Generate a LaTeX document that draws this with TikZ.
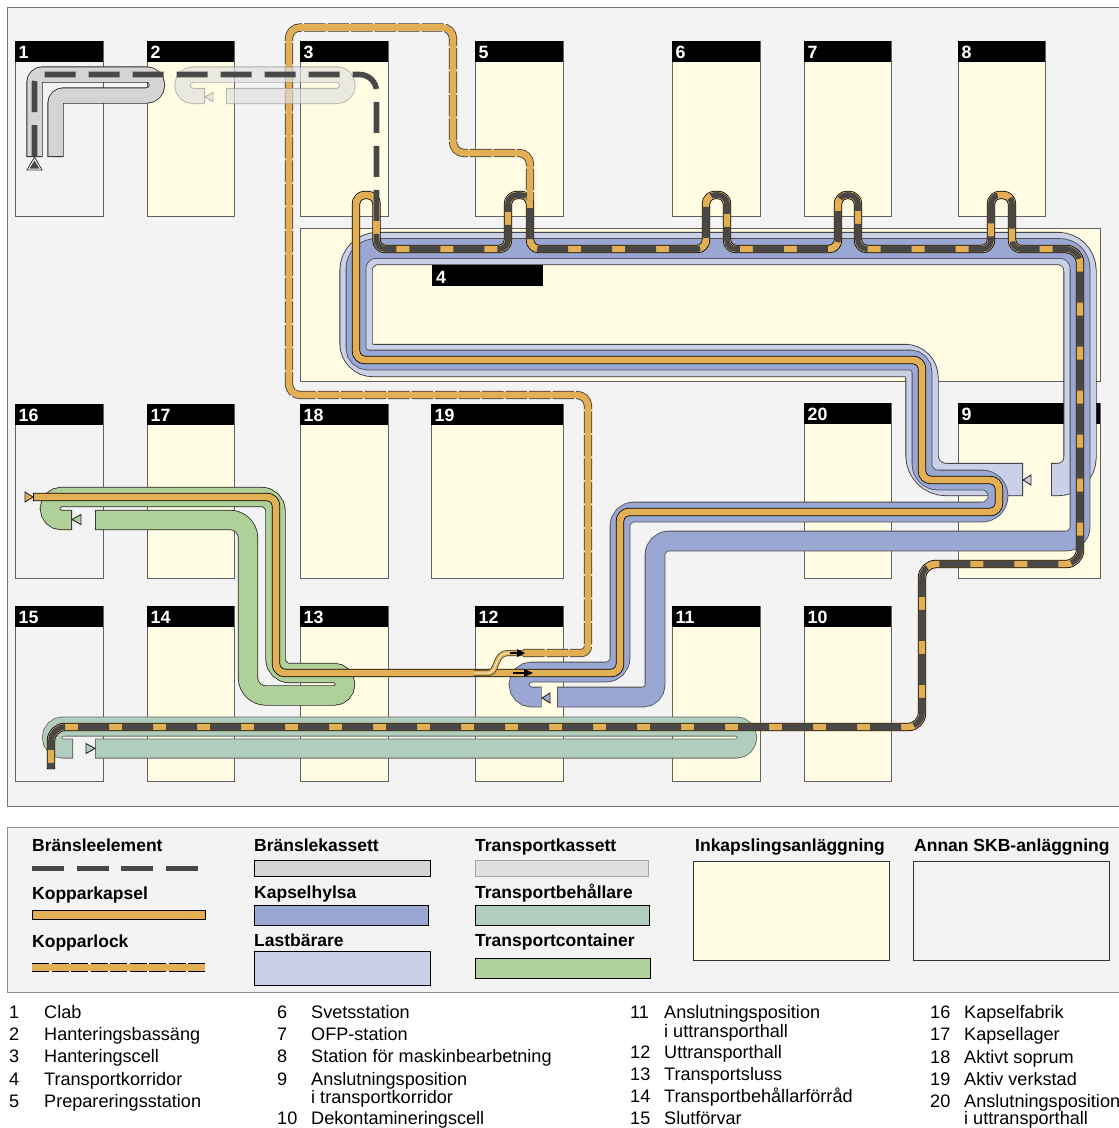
\documentclass[tikz,border=0pt]{standalone}
\usepackage{fontspec}
\setmainfont{Liberation Sans}
\definecolor{copper}{HTML}{E2AF55}
\definecolor{fueldark}{HTML}{484848}
\definecolor{capsblue}{HTML}{9AA7D3}
\definecolor{carrier}{HTML}{C9D0E8}
\definecolor{cream}{HTML}{FFFCE3}
\definecolor{bggray}{HTML}{F3F3F3}
\definecolor{contgreen}{HTML}{B0D09A}
\definecolor{teal}{HTML}{B0CDBD}
\definecolor{cassgray}{HTML}{D4D4D4}
\definecolor{transgray}{HTML}{E0E0E0}
\tikzset{
  x=1pt,y=-1pt,
  roomline/.style={draw=black!62,line width=1pt},
  hdrnum/.style={text=white,font=\fontsize{17.8}{19}\selectfont\bfseries,inner sep=0pt,anchor=base west},
  legtitle/.style={font=\fontsize{17.5}{19}\selectfont\bfseries,inner sep=0pt,anchor=base west},
  listitem/.style={font=\fontsize{18.1}{19}\selectfont,inner sep=0pt,anchor=base west},
  swatch/.style={draw=black,line width=1pt},
  fuel/.style={fueldark,line width=5.6pt,dash pattern=on 31pt off 13pt},
  tip/.style={line width=.9pt,draw=black!85},
}
% outlined band
\newcommand{\tube}[4]{%
  \draw[#3,line width=#2pt+1.6pt] #4;
  \draw[#1,line width=#2pt,shorten <=.8pt,shorten >=.8pt] #4;}
% copper lid: dashed outline
\newcommand{\lidtube}[1]{%
  \draw[white,line width=8.2pt] #1;
  \draw[black!80,line width=8.2pt,dash pattern=on 21.5pt off 2pt] #1;
  \draw[copper,line width=6.6pt] #1;}
% room: id, x1, y1, x2, y2, fill
\newcommand{\room}[6]{%
  \path[fill=#6,roomline] (#2,#3) rectangle (#4,#5);
  \fill[black] (#2,#3) rectangle (#4,#3+21);
  \node[hdrnum] (h#1) at (#2+3.5,#3+17) {#1};}
\newcommand{\legt}[4]{\node[legtitle] (#1) at (#2,#3) {#4};}
\newcommand{\li}[4]{\node[listitem] (#1) at (#2,#3) {#4};}
\begin{document}
\begin{tikzpicture}
\useasboundingbox (0,0) rectangle (1119,1128);
\fill[white] (0,0) rectangle (1119,1128);
% frames
\path[fill=bggray,draw=black!55,line width=1pt] (7,7) rectangle (1125,806);
\path[fill=bggray,draw=black!45,line width=1pt] (7,827) rectangle (1125,992);
% rooms, row 1
\room{1}{15}{41}{103}{216}{bggray}
\room{2}{147}{41}{234}{216}{cream}
\room{3}{300}{41}{388}{216}{cream}
\room{5}{475}{41}{563}{216}{cream}
\room{6}{672}{41}{760}{216}{cream}
\room{7}{804}{41}{891}{216}{cream}
\room{8}{958}{41}{1045}{216}{cream}
% corridor
\path[fill=cream,roomline] (300,228) rectangle (1100,381);
% row 2
\room{16}{15}{404}{103}{578}{bggray}
\room{17}{147}{404}{234}{578}{cream}
\room{18}{300}{404}{388}{578}{cream}
\room{19}{431}{404}{563}{578}{cream}
\room{20}{804}{403}{891}{578}{cream}
\room{9}{958}{403}{1100}{578}{cream}
% row 3
\room{15}{15}{606}{103}{781}{bggray}
\room{14}{147}{606}{234}{781}{cream}
\room{13}{300}{606}{388}{781}{cream}
\room{12}{475}{606}{563}{781}{cream}
\room{11}{672}{606}{760}{781}{cream}
\room{10}{804}{606}{891}{781}{cream}

% fuel cassette
\tube{cassgray}{14.5}{black!85}{[rounded corners=8] (34.5,157) -- (34.5,74.5) [rounded corners=10.5] -- (157,74.5) -- (157,95.5) [rounded corners=8] -- (55.5,95.5) -- (55.5,157)}

% carrier (lastbarare)
\tube{carrier}{31.5}{black!80}{[rounded corners=22] (1051,479.5) -- (1080,479.5) -- (1080,248.5) -- (356,248.5) [rounded corners=17] -- (356,360.5) -- (922,360.5) [rounded corners=24] -- (922,479.5) -- (1023,479.5)}
% capsule sleeve (kapselhylsa)
\tube{capsblue}{19}{black!70}{[rounded corners=12] (557,697) -- (655,697) [rounded corners=14] -- (655,541) -- (1080,541) [rounded corners=20] -- (1080,248.5) -- (356,248.5) [rounded corners=12] -- (356,360) -- (922,360) [rounded corners=16] -- (922,480) -- (998,480) -- (998,512) [rounded corners=14] -- (620,512) -- (620,672) [rounded corners=12.5] -- (519,672) -- (519,697) -- (541.7,697)}
% triangles for carrier and sleeve
\draw[tip,fill=carrier] (1023,480) -- (1031,475) -- (1031,485) -- cycle;
\draw[tip,fill=capsblue] (542,698) -- (550,693) -- (550,703) -- cycle;

% transport container
\tube{contgreen}{18.6}{black!85}{[rounded corners=11.5] (72,520) -- (50,520) -- (50,497) [rounded corners=14] -- (275.5,497) -- (275.5,673) [rounded corners=11] -- (345,673) -- (345,695.5) [rounded corners=18] -- (248,695.5) -- (248,520) -- (95,520)}
\draw[tip,fill=contgreen] (72,519.5) -- (81,514.5) -- (81,524.5) -- cycle;

% transport container for cask (behallare)
\tube{teal}{18.4}{black!60}{[rounded corners=11] (73,748.5) -- (52,748.5) -- (52,726.5) -- (747,726.5) -- (747,748.5) -- (95,748.5)}
\draw[tip,fill=teal] (95,748.5) -- (86,743.5) -- (86,753.5) -- cycle;

% copper capsule
\tube{copper}{6.8}{black}{[rounded corners=9] (33,497) -- (276,497) -- (276,673) -- (620,673) -- (620,512) -- (999,512) -- (999,480) -- (922,480) -- (922,360) -- (356,360) -- (356,195) -- (376.5,195) -- (376.5,249) -- (508,249) -- (508,195) -- (530,195) -- (530,249) -- (706,249) -- (706,195) -- (727,195) -- (727,249) -- (838,249) -- (838,195) -- (858,195) -- (858,249) -- (991,249) -- (991,195) -- (1012,195) -- (1012,249) [rounded corners=14] -- (1080,249) -- (1080,564) -- (922,564) -- (922,727) -- (51,727) [rounded corners=9] -- (51,769)}
\draw[tip,fill=copper] (33,497) -- (25,492) -- (25,502) -- cycle;

% copper lid
\lidtube{[rounded corners=7] (523,653) -- (588,653) [rounded corners=11] -- (588,395) -- (289,395) -- (289,27.5) -- (453,27.5) -- (453,153) -- (530,153) -- (530,200)}
% S-curve start of the lid
\draw[black!80,line width=6pt] (474,673) -- (488,673) .. controls (498,673) and (494,653) .. (508,653) -- (523,653);
\draw[copper,line width=4.6pt] (474,673) -- (488,673) .. controls (498,673) and (494,653) .. (508,653) -- (523,653);
\draw[cream,line width=.8pt] (474,673) -- (488,673) .. controls (498,673) and (494,653) .. (508,653) -- (520,653);
% arrows on capsule and lid
\draw[black,line width=1.5pt] (513,673) -- (526,673);
\fill[black] (533,673) -- (524,669) -- (524,677) -- cycle;
\draw[black,line width=1.5pt] (510,653) -- (519,653);
\fill[black] (525,653) -- (517,649) -- (517,657) -- cycle;

% transport cassette, faded
\begin{scope}[transparency group,opacity=.68]
\tube{transgray}{14.5}{black!45}{[rounded corners=10.75] (205,96) -- (182.5,96) -- (182.5,74.5) -- (347.5,74.5) -- (347.5,96) -- (226,96)}
\draw[line width=.9pt,draw=black!45,fill=transgray] (205,97) -- (213,92.5) -- (213,101.5) -- cycle;
\end{scope}

% fuel element
\draw[fuel,rounded corners=8] (34.5,156) -- (34.5,74.5) [rounded corners=17] -- (376.5,74.5) [rounded corners=9] -- (376.5,249) -- (508,249) -- (508,195) -- (530,195) -- (530,249) -- (706,249) -- (706,195) -- (727,195) -- (727,249) -- (838,249) -- (838,195) -- (858,195) -- (858,249) -- (991,249) -- (991,195) -- (1012,195) -- (1012,249) [rounded corners=14] -- (1080,249) -- (1080,564) -- (922,564) -- (922,727) -- (51,727) [rounded corners=9] -- (51,769);
\draw[black!80,fill=white,line width=.8pt] (34.5,157) -- (42,170) -- (27,170) -- cycle;
\fill[fueldark] (34.5,160.5) -- (39.5,168.5) -- (29.5,168.5) -- cycle;

% header of corridor
\fill[black] (432,265) rectangle (543,286);
\node[hdrnum] (h4) at (436,283) {4};

% legend
\legt{l1}{32}{851}{Bränsleelement}
\draw[fueldark,line width=5pt,dash pattern=on 32pt off 12.5pt] (32,868) -- (198,868);
\legt{l2}{32}{899}{Kopparkapsel}
\path[fill=copper,swatch] (32,910) rectangle (205,919);
\legt{l3}{32}{947}{Kopparlock}
\draw[white,line width=8.4pt] (32,967.5) -- (205,967.5);
\draw[black,line width=8.4pt,dash pattern=on 17pt off 2.5pt] (32,967.5) -- (205,967.5);
\draw[copper,line width=6.8pt] (32,967.5) -- (205,967.5);
\legt{l4}{254}{851}{Bränslekassett}
\path[fill=cassgray,swatch] (254,860) rectangle (430,876);
\legt{l5}{254}{898}{Kapselhylsa}
\path[fill=capsblue,swatch] (254,905) rectangle (428,925);
\legt{l6}{254}{946}{Lastbärare}
\path[fill=carrier,swatch] (254,951) rectangle (430,985);
\legt{l7}{475}{851}{Transportkassett}
\path[fill=transgray,draw=black!35,line width=1pt] (475,860) rectangle (648,876);
\legt{l8}{475}{898}{Transportbehållare}
\path[fill=teal,swatch] (475,905) rectangle (649,925);
\legt{l9}{475}{946}{Transportcontainer}
\path[fill=contgreen,swatch] (475,958) rectangle (650,978);
\legt{l10}{695}{851}{Inkapslingsanläggning}
\path[fill=cream,draw=black!80,line width=1pt] (693,861) rectangle (889,960);
\legt{l11}{914}{851}{Annan SKB-anläggning}
\path[fill=bggray,draw=black!80,line width=1pt] (913,861) rectangle (1109,960);

% list, column 1
\li{n1}{9}{1018}{1}\li{t1}{44}{1018}{Clab}
\li{n2}{9}{1040}{2}\li{t2}{44}{1040}{Hanteringsbassäng}
\li{n3}{9}{1062}{3}\li{t3}{44}{1062}{Hanteringscell}
\li{n4}{9}{1085}{4}\li{t4}{44}{1085}{Transportkorridor}
\li{n5}{9}{1107}{5}\li{t5}{44}{1107}{Prepareringsstation}
% column 2
\li{n6}{277}{1018}{6}\li{t6}{311}{1018}{Svetsstation}
\li{n7}{277}{1040}{7}\li{t7}{311}{1040}{OFP-station}
\li{n8}{277}{1062}{8}\li{t8}{311}{1062}{Station för maskinbearbetning}
\li{n9}{277}{1085}{9}\li{t9}{311}{1085}{Anslutningsposition}
\li{t9b}{311}{1103}{i transportkorridor}
\li{n10}{277}{1124}{10}\li{t10}{311}{1124}{Dekontamineringscell}
% column 3
\li{n11}{630}{1018}{11}\li{t11}{664}{1018}{Anslutningsposition}
\li{t11b}{664}{1037}{i uttransporthall}
\li{n12}{630}{1058}{12}\li{t12}{664}{1058}{Uttransporthall}
\li{n13}{630}{1080}{13}\li{t13}{664}{1080}{Transportsluss}
\li{n14}{630}{1102}{14}\li{t14}{664}{1102}{Transportbehållarförråd}
\li{n15}{630}{1124}{15}\li{t15}{664}{1124}{Slutförvar}
% column 4
\li{n16}{930}{1018}{16}\li{t16}{964}{1018}{Kapselfabrik}
\li{n17}{930}{1040}{17}\li{t17}{964}{1040}{Kapsellager}
\li{n18}{930}{1063}{18}\li{t18}{964}{1063}{Aktivt soprum}
\li{n19}{930}{1085}{19}\li{t19}{964}{1085}{Aktiv verkstad}
\li{n20}{930}{1107}{20}\li{t20}{964}{1107}{Anslutningsposition}
\li{t20b}{964}{1124}{i uttransporthall}
\end{tikzpicture}
\end{document}
